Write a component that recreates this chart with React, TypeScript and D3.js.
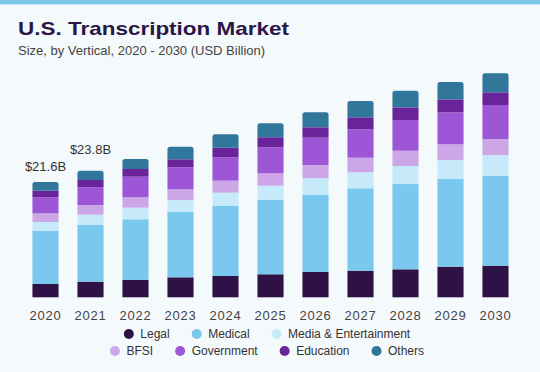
import React, { useEffect, useRef } from 'react';
import * as d3 from 'd3';

const years = ['2020', '2021', '2022', '2023', '2024', '2025', '2026', '2027', '2028', '2029', '2030'];
const seriesNames = ['Legal', 'Medical', 'Media & Entertainment', 'BFSI', 'Government', 'Education', 'Others'];
const legal = [2.5, 2.93, 3.25, 3.75, 4.0, 4.32, 4.75, 4.99, 5.25, 5.74, 5.93];
const medical = [10.0, 10.69, 11.39, 12.31, 13.13, 13.94, 14.45, 15.46, 16.0, 16.45, 16.89];
const media = [1.63, 1.88, 2.18, 2.2, 2.5, 2.68, 3.13, 3.0, 3.38, 3.56, 3.88];
const bfsi = [1.63, 1.82, 1.95, 2.0, 2.25, 2.33, 2.5, 2.74, 2.87, 2.95, 3.0];
const government = [3.0, 3.32, 3.86, 4.13, 4.39, 4.88, 5.12, 5.33, 5.76, 6.0, 6.38];
const education = [1.24, 1.37, 1.44, 1.5, 1.8, 1.88, 1.95, 2.25, 2.38, 2.44, 2.38];
const others = [1.63, 1.74, 1.88, 2.36, 2.51, 2.63, 2.81, 3.06, 3.11, 3.25, 3.56];
const totalLabels = ['$21.6B', '$23.8B'];
const legendRows = [['Legal', 'Medical', 'Media & Entertainment'], ['BFSI', 'Government', 'Education', 'Others']];

const colors = ['#2f1245', '#7bc8ef', '#c6eaf9', '#cda6e8', '#9d56d6', '#6a2499', '#31779c'];

const App = () => {
    const ref = useRef(null);

    useEffect(() => {
        document.body.style.margin = '0';
        const W = 540, H = 372;
        const svg = d3.select(ref.current);
        svg.selectAll('*').remove();

        // background + top band
        svg.append('rect').attr('width', W).attr('height', H).attr('fill', '#f4f9fb');
        svg.append('rect').attr('width', W).attr('height', 4).attr('fill', '#7cc6ea');
        svg.append('rect').attr('y', 4).attr('width', W).attr('height', 1).attr('fill', '#c4e6f6');

        svg.append('text').attr('x', 18).attr('y', 35)
            .attr('font-family', 'Liberation Sans, Arial, sans-serif').attr('font-weight', 'bold')
            .attr('font-size', 19).attr('fill', '#2b1747')
            .attr('textLength', 271).attr('lengthAdjust', 'spacingAndGlyphs')
            .text('U.S. Transcription Market');
        svg.append('text').attr('x', 18).attr('y', 55)
            .attr('font-family', 'Liberation Sans, Arial, sans-serif')
            .attr('font-size', 13).attr('fill', '#444')
            .text('Size, by Vertical, 2020 - 2030 (USD Billion)');

        const table = years.map((yr, i) => ({
            year: yr,
            Legal: legal[i], Medical: medical[i], 'Media & Entertainment': media[i], BFSI: bfsi[i],
            Government: government[i], Education: education[i], Others: others[i]
        }));
        const stack = d3.stack().keys(seriesNames)(table);

        const x = d3.scaleBand().domain(years).range([23, 518]).paddingInner(0.42).paddingOuter(0.21);
        const y = d3.scaleLinear().domain([0, 45]).range([297.3, 297.3 - 45 * 5.33]);
        const color = d3.scaleOrdinal().domain(seriesNames).range(colors);

        const g = svg.append('g');
        stack.forEach((layer, li) => {
            const isTop = li === stack.length - 1;
            layer.forEach(d => {
                const x0 = x(d.data.year), w = x.bandwidth();
                const y0 = y(d[1]), y1 = y(d[0]);
                if (isTop) {
                    const r = 2.5;
                    g.append('path')
                        .attr('d', `M${x0},${y1}V${y0 + r}Q${x0},${y0} ${x0 + r},${y0}H${x0 + w - r}Q${x0 + w},${y0} ${x0 + w},${y0 + r}V${y1}Z`)
                        .attr('fill', color(layer.key));
                } else {
                    g.append('rect').attr('x', x0).attr('y', y0).attr('width', w)
                        .attr('height', y1 - y0).attr('fill', color(layer.key));
                }
            });
        });

        // total labels for first years
        const topLayer = stack[stack.length - 1];
        totalLabels.forEach((lab, i) => {
            svg.append('text')
                .attr('x', x(years[i]) + x.bandwidth() / 2)
                .attr('y', y(topLayer[i][1]) - (i === 0 ? 11 : 17))
                .attr('text-anchor', 'middle')
                .attr('font-family', 'Liberation Sans, Arial, sans-serif')
                .attr('font-size', 13).attr('fill', '#333')
                .text(lab);
        });

        // x axis
        const xAxis = svg.append('g').attr('transform', 'translate(0,297.3)')
            .call(d3.axisBottom(x).tickSize(0).tickPadding(13));
        xAxis.select('.domain').remove();
        xAxis.selectAll('text')
            .attr('font-family', 'Liberation Sans, Arial, sans-serif')
            .attr('font-size', 13).attr('fill', '#444').attr('letter-spacing', 0.8);

        // legend
        const rowY = [334, 351];
        legendRows.forEach((row, ri) => {
            const lg = svg.append('g');
            let cx = 0;
            row.forEach(name => {
                lg.append('circle').attr('cx', cx).attr('cy', rowY[ri]).attr('r', 5).attr('fill', color(name));
                const t = lg.append('text').attr('x', cx + 11.5).attr('y', rowY[ri]).attr('dy', '0.35em')
                    .attr('font-family', 'Liberation Sans, Arial, sans-serif')
                    .attr('font-size', 12).attr('fill', '#333').text(name);
                const tw = t.node().getComputedTextLength();
                cx += 11.5 + tw + 27;
            });
            const rowW = cx - 27 + 5;
            lg.attr('transform', `translate(${W / 2 - rowW / 2 + 2},0)`);
        });
    }, []);

    return <svg ref={ref} width={540} height={372} style={{ display: 'block' }} />;
};

export default App;
